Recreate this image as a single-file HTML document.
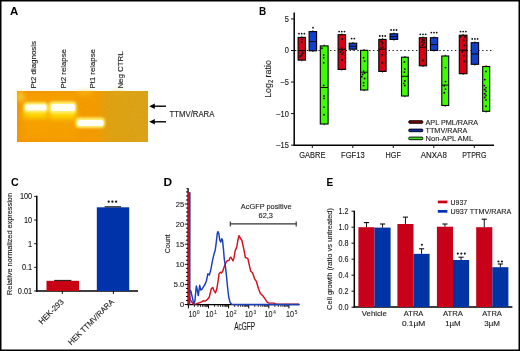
<!DOCTYPE html><html><head><meta charset="utf-8"><style>html,body{margin:0;padding:0;background:#fff;}svg{display:block;will-change:transform}text{stroke:#1a1a1a;stroke-width:0.12px}text[font-weight=bold]{stroke:none}</style></head><body><svg width="520" height="351" viewBox="0 0 520 351" font-family="'Liberation Sans', sans-serif"><rect x="0.75" y="0.75" width="518.5" height="349.5" fill="none" stroke="#000" stroke-width="1.5"/>
<text x="9.9" y="15.1" font-size="11" text-anchor="start" fill="#000" font-weight="bold" textLength="8.3" lengthAdjust="spacingAndGlyphs" >A</text>
<text x="259.1" y="15.3" font-size="11" text-anchor="start" fill="#000" font-weight="bold" textLength="7.2" lengthAdjust="spacingAndGlyphs" >B</text>
<text x="11.0" y="186.2" font-size="11" text-anchor="start" fill="#000" font-weight="bold" textLength="7.7" lengthAdjust="spacingAndGlyphs" >C</text>
<text x="163.6" y="186" font-size="11" text-anchor="start" fill="#000" font-weight="bold" textLength="8.6" lengthAdjust="spacingAndGlyphs" >D</text>
<text x="326.5" y="186" font-size="11" text-anchor="start" fill="#000" font-weight="bold" textLength="6.7" lengthAdjust="spacingAndGlyphs" >E</text>
<defs>
<linearGradient id="gel" x1="0" x2="1" y1="0" y2="0">
 <stop offset="0" stop-color="#f39600"/>
 <stop offset="0.6" stop-color="#f29a00"/>
 <stop offset="0.7" stop-color="#dea012"/>
 <stop offset="1" stop-color="#d8a21a"/>
</linearGradient>
<filter id="blur1" x="-50%" y="-50%" width="200%" height="200%"><feGaussianBlur stdDeviation="1.2"/></filter>
<filter id="blur2" x="-50%" y="-50%" width="200%" height="200%"><feGaussianBlur stdDeviation="2.5"/></filter>
<filter id="noise" x="0" y="0" width="100%" height="100%"><feTurbulence type="fractalNoise" baseFrequency="0.35" numOctaves="2" seed="4"/><feColorMatrix type="matrix" values="0 0 0 0 0.95  0 0 0 0 0.55  0 0 0 0 0  0 0 0 1.6 -0.75"/></filter>
<filter id="blur05" x="-50%" y="-50%" width="200%" height="200%"><feGaussianBlur stdDeviation="0.6"/></filter>
</defs>
<rect x="17" y="91" width="131" height="51" fill="url(#gel)"/>
<rect x="17" y="91" width="131" height="51" filter="url(#noise)" opacity="0.22"/>
<g filter="url(#blur2)"><rect x="22" y="94" width="27" height="44" fill="#f8a800" opacity="0.45"/><rect x="49" y="94" width="28" height="44" fill="#f8a800" opacity="0.4"/><rect x="24" y="110" width="23" height="8" fill="#ffe000" opacity="0.9"/><rect x="50" y="110.5" width="26" height="8" fill="#ffe000" opacity="0.95"/><rect x="18" y="92" width="5" height="9" fill="#ffe040" opacity="0.8"/><rect x="78" y="91" width="14" height="3" fill="#fcd030" opacity="0.7"/><rect x="112" y="91" width="12" height="3" fill="#e8b020" opacity="0.5"/></g>
<g filter="url(#blur1)"><rect x="23.5" y="102.3" width="24.5" height="10.5" rx="4" fill="#fff070"/><rect x="49" y="101.6" width="27.5" height="12" rx="4" fill="#fff070"/><rect x="75.5" y="117.6" width="29.5" height="10.5" rx="4" fill="#fff070"/></g>
<g filter="url(#blur05)"><rect x="25" y="104.6" width="21.5" height="5.8" rx="2.5" fill="#fffff6"/><rect x="51" y="104" width="24" height="7" rx="2.5" fill="#fffff6"/><rect x="77.5" y="120" width="26" height="6" rx="2.5" fill="#fffff6"/></g>
<text transform="translate(36.3,88.6) rotate(-90)" x="0" y="0" font-size="6.9" fill="#1a1a1a" textLength="47.6" lengthAdjust="spacingAndGlyphs">Pt2 diagnosis</text>
<text transform="translate(65.6,88.6) rotate(-90)" x="0" y="0" font-size="6.9" fill="#1a1a1a" textLength="39.5" lengthAdjust="spacingAndGlyphs">Pt2 relapse</text>
<text transform="translate(94.6,88.6) rotate(-90)" x="0" y="0" font-size="6.9" fill="#1a1a1a" textLength="39.5" lengthAdjust="spacingAndGlyphs">Pt1 relapse</text>
<text transform="translate(122.8,88.6) rotate(-90)" x="0" y="0" font-size="6.9" fill="#1a1a1a" textLength="37.3" lengthAdjust="spacingAndGlyphs">Neg CTRL</text>
<line x1="152" y1="106.2" x2="166" y2="106.2" stroke="#000" stroke-width="1.4"/>
<path d="M149.3,106.2 L154.8,103.4 L154.8,109.0 Z" fill="#000"/>
<line x1="152" y1="121.8" x2="166" y2="121.8" stroke="#000" stroke-width="1.4"/>
<path d="M149.3,121.8 L154.8,119.0 L154.8,124.6 Z" fill="#000"/>
<text x="169.6" y="116.6" font-size="8.2" text-anchor="start" fill="#1a1a1a" textLength="44.8" lengthAdjust="spacingAndGlyphs" >TTMV/RARA</text>
<line x1="294.2" y1="12.5" x2="294.2" y2="146" stroke="#000" stroke-width="1.5"/>
<line x1="293.5" y1="145.3" x2="494" y2="145.3" stroke="#000" stroke-width="1.4"/>
<line x1="291" y1="18.95" x2="294" y2="18.95" stroke="#111" stroke-width="1"/>
<text x="288.8" y="21.85" font-size="8.3" text-anchor="end" fill="#1a1a1a" textLength="4.15" lengthAdjust="spacingAndGlyphs" >5</text>
<line x1="291" y1="50.50" x2="294" y2="50.50" stroke="#111" stroke-width="1"/>
<text x="288.8" y="53.4" font-size="8.3" text-anchor="end" fill="#1a1a1a" textLength="4.15" lengthAdjust="spacingAndGlyphs" >0</text>
<line x1="291" y1="82.05" x2="294" y2="82.05" stroke="#111" stroke-width="1"/>
<text x="288.8" y="84.95" font-size="8.3" text-anchor="end" fill="#1a1a1a" textLength="8.31" lengthAdjust="spacingAndGlyphs" >–5</text>
<line x1="291" y1="113.60" x2="294" y2="113.60" stroke="#111" stroke-width="1"/>
<text x="288.8" y="116.5" font-size="8.3" text-anchor="end" fill="#1a1a1a" textLength="12.46" lengthAdjust="spacingAndGlyphs" >–10</text>
<line x1="291" y1="145.15" x2="294" y2="145.15" stroke="#111" stroke-width="1"/>
<text x="288.8" y="148.04999999999998" font-size="8.3" text-anchor="end" fill="#1a1a1a" textLength="12.46" lengthAdjust="spacingAndGlyphs" >–15</text>
<line x1="312.3" y1="145" x2="312.3" y2="148" stroke="#111" stroke-width="1"/>
<line x1="352.8" y1="145" x2="352.8" y2="148" stroke="#111" stroke-width="1"/>
<line x1="393.3" y1="145" x2="393.3" y2="148" stroke="#111" stroke-width="1"/>
<line x1="433.8" y1="145" x2="433.8" y2="148" stroke="#111" stroke-width="1"/>
<line x1="474.3" y1="145" x2="474.3" y2="148" stroke="#111" stroke-width="1"/>
<text x="312.3" y="157.8" font-size="8.2" text-anchor="middle" fill="#1a1a1a" textLength="26.3" lengthAdjust="spacingAndGlyphs" >GABRE</text>
<text x="352.8" y="157.8" font-size="8.2" text-anchor="middle" fill="#1a1a1a" textLength="23.6" lengthAdjust="spacingAndGlyphs" >FGF13</text>
<text x="393.3" y="157.8" font-size="8.2" text-anchor="middle" fill="#1a1a1a" textLength="15.4" lengthAdjust="spacingAndGlyphs" >HGF</text>
<text x="433.8" y="157.8" font-size="8.2" text-anchor="middle" fill="#1a1a1a" textLength="26" lengthAdjust="spacingAndGlyphs" >ANXA8</text>
<text x="474.3" y="157.8" font-size="8.2" text-anchor="middle" fill="#1a1a1a" textLength="24.2" lengthAdjust="spacingAndGlyphs" >PTPRG</text>
<text transform="translate(270.9,79) rotate(-90)" text-anchor="middle" font-size="9.7" fill="#1a1a1a" textLength="37.6" lengthAdjust="spacingAndGlyphs">Log<tspan font-size="6.3" dy="2.2">2</tspan><tspan dy="-2.2"> ratio</tspan></text>
<line x1="295" y1="50.5" x2="494" y2="50.5" stroke="#222" stroke-width="1.2" stroke-dasharray="1.4,2.5"/>
<rect x="298.1" y="37.4" width="7.40" height="22.70" fill="#d80012" stroke="#000" stroke-width="1.1"/>
<line x1="301.80" y1="36.199999999999996" x2="301.80" y2="61.300000000000004" stroke="#000" stroke-width="0.9" stroke-dasharray="1.2,22.70"/>
<line x1="298.1" y1="50.6" x2="305.5" y2="50.6" stroke="#000" stroke-width="0.9"/>
<rect x="309.1" y="31.6" width="7.50" height="19.20" fill="#1040cc" stroke="#000" stroke-width="1.1"/>
<line x1="312.85" y1="30.400000000000002" x2="312.85" y2="52.0" stroke="#000" stroke-width="0.9" stroke-dasharray="1.2,19.20"/>
<line x1="309.1" y1="41.6" x2="316.6" y2="41.6" stroke="#000" stroke-width="0.9"/>
<rect x="320.3" y="45.9" width="7.80" height="78.10" fill="#40fc00" stroke="#000" stroke-width="1.1"/>
<line x1="324.20" y1="44.699999999999996" x2="324.20" y2="125.2" stroke="#000" stroke-width="0.9" stroke-dasharray="1.2,78.10"/>
<line x1="320.3" y1="87.5" x2="328.1" y2="87.5" stroke="#000" stroke-width="0.9"/>
<rect x="338.1" y="34.7" width="7.50" height="34.70" fill="#d80012" stroke="#000" stroke-width="1.1"/>
<line x1="341.85" y1="33.5" x2="341.85" y2="70.60000000000001" stroke="#000" stroke-width="0.9" stroke-dasharray="1.2,34.70"/>
<line x1="338.1" y1="49.3" x2="345.6" y2="49.3" stroke="#000" stroke-width="0.9"/>
<rect x="349.2" y="43.2" width="7.50" height="6.00" fill="#1040cc" stroke="#000" stroke-width="1.1"/>
<line x1="352.95" y1="42.0" x2="352.95" y2="50.400000000000006" stroke="#000" stroke-width="0.9" stroke-dasharray="1.2,6.00"/>
<line x1="349.2" y1="46.3" x2="356.7" y2="46.3" stroke="#000" stroke-width="0.9"/>
<rect x="360.6" y="50.3" width="7.20" height="39.70" fill="#40fc00" stroke="#000" stroke-width="1.1"/>
<line x1="364.20" y1="49.099999999999994" x2="364.20" y2="91.2" stroke="#000" stroke-width="0.9" stroke-dasharray="1.2,39.70"/>
<line x1="360.6" y1="72.2" x2="367.8" y2="72.2" stroke="#000" stroke-width="0.9"/>
<rect x="378.8" y="39.4" width="7.30" height="32.00" fill="#d80012" stroke="#000" stroke-width="1.1"/>
<line x1="382.45" y1="38.199999999999996" x2="382.45" y2="72.60000000000001" stroke="#000" stroke-width="0.9" stroke-dasharray="1.2,32.00"/>
<line x1="378.8" y1="49.2" x2="386.1" y2="49.2" stroke="#000" stroke-width="0.9"/>
<rect x="390" y="33.8" width="7.70" height="5.60" fill="#1040cc" stroke="#000" stroke-width="1.1"/>
<line x1="393.85" y1="32.599999999999994" x2="393.85" y2="40.6" stroke="#000" stroke-width="0.9" stroke-dasharray="1.2,5.60"/>
<line x1="390" y1="36.6" x2="397.7" y2="36.6" stroke="#000" stroke-width="0.9"/>
<rect x="401.5" y="57.2" width="6.80" height="38.80" fill="#40fc00" stroke="#000" stroke-width="1.1"/>
<line x1="404.90" y1="56.0" x2="404.90" y2="97.2" stroke="#000" stroke-width="0.9" stroke-dasharray="1.2,38.80"/>
<line x1="401.5" y1="76.3" x2="408.3" y2="76.3" stroke="#000" stroke-width="0.9"/>
<rect x="419.3" y="37.7" width="7.30" height="28.10" fill="#d80012" stroke="#000" stroke-width="1.1"/>
<line x1="422.95" y1="36.5" x2="422.95" y2="67.0" stroke="#000" stroke-width="0.9" stroke-dasharray="1.2,28.10"/>
<line x1="419.3" y1="47.2" x2="426.6" y2="47.2" stroke="#000" stroke-width="0.9"/>
<rect x="430.4" y="37.7" width="7.30" height="12.70" fill="#1040cc" stroke="#000" stroke-width="1.1"/>
<line x1="434.05" y1="36.5" x2="434.05" y2="51.6" stroke="#000" stroke-width="0.9" stroke-dasharray="1.2,12.70"/>
<line x1="430.4" y1="44.6" x2="437.7" y2="44.6" stroke="#000" stroke-width="0.9"/>
<rect x="441.8" y="56" width="6.90" height="49.50" fill="#40fc00" stroke="#000" stroke-width="1.1"/>
<line x1="445.25" y1="54.8" x2="445.25" y2="106.7" stroke="#000" stroke-width="0.9" stroke-dasharray="1.2,49.50"/>
<line x1="441.8" y1="85.1" x2="448.7" y2="85.1" stroke="#000" stroke-width="0.9"/>
<rect x="459.3" y="35.2" width="7.70" height="38.50" fill="#d80012" stroke="#000" stroke-width="1.1"/>
<line x1="463.15" y1="34.0" x2="463.15" y2="74.9" stroke="#000" stroke-width="0.9" stroke-dasharray="1.2,38.50"/>
<line x1="459.3" y1="50.2" x2="467" y2="50.2" stroke="#000" stroke-width="0.9"/>
<rect x="471.2" y="42.7" width="7.40" height="21.60" fill="#1040cc" stroke="#000" stroke-width="1.1"/>
<line x1="474.90" y1="41.5" x2="474.90" y2="65.5" stroke="#000" stroke-width="0.9" stroke-dasharray="1.2,21.60"/>
<line x1="471.2" y1="54" x2="478.6" y2="54" stroke="#000" stroke-width="0.9"/>
<rect x="482.7" y="66.5" width="7.00" height="44.80" fill="#40fc00" stroke="#000" stroke-width="1.1"/>
<line x1="486.20" y1="65.3" x2="486.20" y2="112.5" stroke="#000" stroke-width="0.9" stroke-dasharray="1.2,44.80"/>
<circle cx="301.80" cy="39.20" r="0.95" fill="#111"/>
<circle cx="301.80" cy="42.10" r="0.95" fill="#111"/>
<circle cx="302.30" cy="50.80" r="0.95" fill="#111"/>
<circle cx="300.40" cy="56.20" r="0.95" fill="#111"/>
<circle cx="301.80" cy="54.70" r="0.95" fill="#111"/>
<circle cx="302.80" cy="53.30" r="0.95" fill="#111"/>
<circle cx="321.90" cy="48.30" r="0.95" fill="#111"/>
<circle cx="323.70" cy="54.90" r="0.95" fill="#111"/>
<circle cx="323.70" cy="57.80" r="0.95" fill="#111"/>
<circle cx="323.70" cy="62.80" r="0.95" fill="#111"/>
<circle cx="323.70" cy="85.50" r="0.95" fill="#111"/>
<circle cx="324.00" cy="95.90" r="0.95" fill="#111"/>
<circle cx="324.00" cy="98.40" r="0.95" fill="#111"/>
<circle cx="324.00" cy="107.10" r="0.95" fill="#111"/>
<circle cx="324.00" cy="114.80" r="0.95" fill="#111"/>
<circle cx="342.30" cy="38.90" r="0.95" fill="#111"/>
<circle cx="341.40" cy="48.50" r="0.95" fill="#111"/>
<circle cx="342.30" cy="50.00" r="0.95" fill="#111"/>
<circle cx="340.50" cy="51.90" r="0.95" fill="#111"/>
<circle cx="343.30" cy="52.60" r="0.95" fill="#111"/>
<circle cx="342.30" cy="54.10" r="0.95" fill="#111"/>
<circle cx="342.00" cy="60.00" r="0.95" fill="#111"/>
<circle cx="363.60" cy="57.80" r="0.95" fill="#111"/>
<circle cx="364.60" cy="61.10" r="0.95" fill="#111"/>
<circle cx="363.60" cy="71.10" r="0.95" fill="#111"/>
<circle cx="364.60" cy="73.00" r="0.95" fill="#111"/>
<circle cx="362.70" cy="74.40" r="0.95" fill="#111"/>
<circle cx="361.80" cy="76.70" r="0.95" fill="#111"/>
<circle cx="364.60" cy="78.50" r="0.95" fill="#111"/>
<circle cx="363.60" cy="82.80" r="0.95" fill="#111"/>
<circle cx="363.60" cy="85.60" r="0.95" fill="#111"/>
<circle cx="381.20" cy="41.30" r="0.95" fill="#111"/>
<circle cx="382.60" cy="42.80" r="0.95" fill="#111"/>
<circle cx="381.80" cy="44.80" r="0.95" fill="#111"/>
<circle cx="383.20" cy="46.90" r="0.95" fill="#111"/>
<circle cx="381.20" cy="48.10" r="0.95" fill="#111"/>
<circle cx="382.20" cy="54.70" r="0.95" fill="#111"/>
<circle cx="382.20" cy="62.90" r="0.95" fill="#111"/>
<circle cx="404.40" cy="61.90" r="0.95" fill="#111"/>
<circle cx="404.80" cy="69.10" r="0.95" fill="#111"/>
<circle cx="404.40" cy="72.10" r="0.95" fill="#111"/>
<circle cx="404.80" cy="81.00" r="0.95" fill="#111"/>
<circle cx="403.80" cy="83.40" r="0.95" fill="#111"/>
<circle cx="404.80" cy="85.50" r="0.95" fill="#111"/>
<circle cx="422.40" cy="39.80" r="0.95" fill="#111"/>
<circle cx="424.00" cy="40.30" r="0.95" fill="#111"/>
<circle cx="421.90" cy="41.90" r="0.95" fill="#111"/>
<circle cx="423.50" cy="44.00" r="0.95" fill="#111"/>
<circle cx="422.40" cy="45.10" r="0.95" fill="#111"/>
<circle cx="424.00" cy="42.60" r="0.95" fill="#111"/>
<circle cx="422.90" cy="60.50" r="0.95" fill="#111"/>
<circle cx="445.50" cy="67.60" r="0.95" fill="#111"/>
<circle cx="445.50" cy="81.60" r="0.95" fill="#111"/>
<circle cx="444.30" cy="85.80" r="0.95" fill="#111"/>
<circle cx="445.50" cy="89.10" r="0.95" fill="#111"/>
<circle cx="444.30" cy="92.80" r="0.95" fill="#111"/>
<circle cx="460.50" cy="36.70" r="0.95" fill="#111"/>
<circle cx="464.90" cy="36.70" r="0.95" fill="#111"/>
<circle cx="463.70" cy="40.40" r="0.95" fill="#111"/>
<circle cx="464.40" cy="45.40" r="0.95" fill="#111"/>
<circle cx="463.70" cy="49.80" r="0.95" fill="#111"/>
<circle cx="462.40" cy="51.80" r="0.95" fill="#111"/>
<circle cx="463.70" cy="55.80" r="0.95" fill="#111"/>
<circle cx="464.40" cy="61.50" r="0.95" fill="#111"/>
<circle cx="486.00" cy="71.40" r="0.95" fill="#111"/>
<circle cx="484.80" cy="79.60" r="0.95" fill="#111"/>
<circle cx="484.30" cy="85.60" r="0.95" fill="#111"/>
<circle cx="486.00" cy="87.60" r="0.95" fill="#111"/>
<circle cx="484.80" cy="89.50" r="0.95" fill="#111"/>
<circle cx="486.00" cy="91.30" r="0.95" fill="#111"/>
<circle cx="484.80" cy="93.80" r="0.95" fill="#111"/>
<circle cx="486.00" cy="95.50" r="0.95" fill="#111"/>
<circle cx="484.80" cy="97.50" r="0.95" fill="#111"/>
<circle cx="486.00" cy="100.00" r="0.95" fill="#111"/>
<circle cx="486.00" cy="106.20" r="0.95" fill="#111"/>
<circle cx="299.00" cy="33.7" r="0.9" fill="#111"/>
<circle cx="301.70" cy="33.7" r="0.9" fill="#111"/>
<circle cx="304.40" cy="33.7" r="0.9" fill="#111"/>
<circle cx="313.00" cy="27.7" r="0.9" fill="#111"/>
<circle cx="339.10" cy="31.6" r="0.9" fill="#111"/>
<circle cx="341.80" cy="31.6" r="0.9" fill="#111"/>
<circle cx="344.50" cy="31.6" r="0.9" fill="#111"/>
<circle cx="351.65" cy="38.6" r="0.9" fill="#111"/>
<circle cx="354.35" cy="38.6" r="0.9" fill="#111"/>
<circle cx="379.80" cy="36" r="0.9" fill="#111"/>
<circle cx="382.50" cy="36" r="0.9" fill="#111"/>
<circle cx="385.20" cy="36" r="0.9" fill="#111"/>
<circle cx="391.10" cy="30" r="0.9" fill="#111"/>
<circle cx="393.80" cy="30" r="0.9" fill="#111"/>
<circle cx="396.50" cy="30" r="0.9" fill="#111"/>
<circle cx="420.30" cy="34.3" r="0.9" fill="#111"/>
<circle cx="423.00" cy="34.3" r="0.9" fill="#111"/>
<circle cx="425.70" cy="34.3" r="0.9" fill="#111"/>
<circle cx="431.30" cy="32.6" r="0.9" fill="#111"/>
<circle cx="434.00" cy="32.6" r="0.9" fill="#111"/>
<circle cx="436.70" cy="32.6" r="0.9" fill="#111"/>
<circle cx="460.50" cy="31.6" r="0.9" fill="#111"/>
<circle cx="463.20" cy="31.6" r="0.9" fill="#111"/>
<circle cx="465.90" cy="31.6" r="0.9" fill="#111"/>
<circle cx="472.20" cy="38.9" r="0.9" fill="#111"/>
<circle cx="474.90" cy="38.9" r="0.9" fill="#111"/>
<circle cx="477.60" cy="38.9" r="0.9" fill="#111"/>
<rect x="408.8" y="120.7" width="14" height="2.6" rx="0.8" fill="#7a0000" stroke="#000" stroke-width="0.9"/>
<text x="425.5" y="124.7" font-size="8.1" text-anchor="start" fill="#1a1a1a" textLength="52.5" lengthAdjust="spacingAndGlyphs" >APL PML/RARA</text>
<rect x="408.8" y="129.1" width="14" height="2.6" rx="0.8" fill="#0a2ab0" stroke="#000" stroke-width="0.9"/>
<text x="425.5" y="133.1" font-size="8.1" text-anchor="start" fill="#1a1a1a" textLength="41.9" lengthAdjust="spacingAndGlyphs" >TTMV/RARA</text>
<rect x="408.8" y="137.1" width="14" height="2.6" rx="0.8" fill="#38e818" stroke="#000" stroke-width="0.9"/>
<text x="425.5" y="141.1" font-size="8.1" text-anchor="start" fill="#1a1a1a" textLength="47.6" lengthAdjust="spacingAndGlyphs" >Non-APL AML</text>
<line x1="36.8" y1="195.8" x2="36.8" y2="291.7" stroke="#000" stroke-width="1.5"/>
<line x1="36.1" y1="291" x2="138" y2="291" stroke="#000" stroke-width="1.5"/>
<line x1="34.2" y1="196.40" x2="36.8" y2="196.40" stroke="#111" stroke-width="1"/>
<text x="32.2" y="199.3" font-size="8.2" text-anchor="end" fill="#1a1a1a" textLength="12.31" lengthAdjust="spacingAndGlyphs" >100</text>
<line x1="34.2" y1="220.05" x2="36.8" y2="220.05" stroke="#111" stroke-width="1"/>
<text x="32.2" y="222.95000000000002" font-size="8.2" text-anchor="end" fill="#1a1a1a" textLength="8.21" lengthAdjust="spacingAndGlyphs" >10</text>
<line x1="34.2" y1="243.70" x2="36.8" y2="243.70" stroke="#111" stroke-width="1"/>
<text x="32.2" y="246.6" font-size="8.2" text-anchor="end" fill="#1a1a1a" textLength="4.1" lengthAdjust="spacingAndGlyphs" >1</text>
<line x1="34.2" y1="267.35" x2="36.8" y2="267.35" stroke="#111" stroke-width="1"/>
<text x="32.2" y="270.25" font-size="8.2" text-anchor="end" fill="#1a1a1a" textLength="10.26" lengthAdjust="spacingAndGlyphs" >0.1</text>
<line x1="34.2" y1="291.00" x2="36.8" y2="291.00" stroke="#111" stroke-width="1"/>
<text x="32.2" y="293.9" font-size="8.2" text-anchor="end" fill="#1a1a1a" textLength="14.36" lengthAdjust="spacingAndGlyphs" >0.01</text>
<line x1="62.3" y1="291" x2="62.3" y2="294" stroke="#111" stroke-width="1"/>
<line x1="113.4" y1="291" x2="113.4" y2="294" stroke="#111" stroke-width="1"/>
<rect x="46.5" y="280.8" width="32.5" height="10.2" fill="#c80014"/>
<rect x="96.8" y="207.3" width="32.4" height="83.7" fill="#0033aa"/>
<line x1="54.2" y1="280.4" x2="71.4" y2="280.4" stroke="#111" stroke-width="1"/>
<line x1="104.6" y1="206.8" x2="121.1" y2="206.8" stroke="#111" stroke-width="1.1"/>
<circle cx="108.70" cy="201.7" r="1.15" fill="#111"/>
<circle cx="112.40" cy="201.7" r="1.15" fill="#111"/>
<circle cx="116.10" cy="201.7" r="1.15" fill="#111"/>
<text transform="translate(12.1,244) rotate(-90)" text-anchor="middle" font-size="7.8" fill="#1a1a1a" textLength="102" lengthAdjust="spacingAndGlyphs">Relative normalized expression</text>
<text transform="translate(60.3,298.5) rotate(-45)" text-anchor="end" font-size="8" fill="#1a1a1a" textLength="31.5" lengthAdjust="spacingAndGlyphs" y="5.5">HEK-293</text>
<text transform="translate(110.6,298.5) rotate(-45)" text-anchor="end" font-size="8" fill="#1a1a1a" textLength="61" lengthAdjust="spacingAndGlyphs" y="5.5">HEK TTMV/RARA</text>
<line x1="188.1" y1="188.2" x2="188.1" y2="305.2" stroke="#000" stroke-width="1.3"/>
<line x1="187.5" y1="304.6" x2="299.5" y2="304.6" stroke="#000" stroke-width="1.3"/>
<line x1="184.8" y1="304.50" x2="188.2" y2="304.50" stroke="#000" stroke-width="1"/>
<line x1="186.0" y1="300.48" x2="188.2" y2="300.48" stroke="#000" stroke-width="1"/>
<line x1="186.0" y1="296.46" x2="188.2" y2="296.46" stroke="#000" stroke-width="1"/>
<line x1="186.0" y1="292.44" x2="188.2" y2="292.44" stroke="#000" stroke-width="1"/>
<line x1="186.0" y1="288.42" x2="188.2" y2="288.42" stroke="#000" stroke-width="1"/>
<line x1="184.8" y1="284.40" x2="188.2" y2="284.40" stroke="#000" stroke-width="1"/>
<line x1="186.0" y1="280.38" x2="188.2" y2="280.38" stroke="#000" stroke-width="1"/>
<line x1="186.0" y1="276.36" x2="188.2" y2="276.36" stroke="#000" stroke-width="1"/>
<line x1="186.0" y1="272.34" x2="188.2" y2="272.34" stroke="#000" stroke-width="1"/>
<line x1="186.0" y1="268.32" x2="188.2" y2="268.32" stroke="#000" stroke-width="1"/>
<line x1="184.8" y1="264.30" x2="188.2" y2="264.30" stroke="#000" stroke-width="1"/>
<line x1="186.0" y1="260.28" x2="188.2" y2="260.28" stroke="#000" stroke-width="1"/>
<line x1="186.0" y1="256.26" x2="188.2" y2="256.26" stroke="#000" stroke-width="1"/>
<line x1="186.0" y1="252.24" x2="188.2" y2="252.24" stroke="#000" stroke-width="1"/>
<line x1="186.0" y1="248.22" x2="188.2" y2="248.22" stroke="#000" stroke-width="1"/>
<line x1="184.8" y1="244.20" x2="188.2" y2="244.20" stroke="#000" stroke-width="1"/>
<line x1="186.0" y1="240.18" x2="188.2" y2="240.18" stroke="#000" stroke-width="1"/>
<line x1="186.0" y1="236.16" x2="188.2" y2="236.16" stroke="#000" stroke-width="1"/>
<line x1="186.0" y1="232.14" x2="188.2" y2="232.14" stroke="#000" stroke-width="1"/>
<line x1="186.0" y1="228.12" x2="188.2" y2="228.12" stroke="#000" stroke-width="1"/>
<line x1="184.8" y1="224.10" x2="188.2" y2="224.10" stroke="#000" stroke-width="1"/>
<line x1="186.0" y1="220.08" x2="188.2" y2="220.08" stroke="#000" stroke-width="1"/>
<line x1="186.0" y1="216.06" x2="188.2" y2="216.06" stroke="#000" stroke-width="1"/>
<line x1="186.0" y1="212.04" x2="188.2" y2="212.04" stroke="#000" stroke-width="1"/>
<line x1="186.0" y1="208.02" x2="188.2" y2="208.02" stroke="#000" stroke-width="1"/>
<line x1="184.8" y1="204.00" x2="188.2" y2="204.00" stroke="#000" stroke-width="1"/>
<line x1="186.0" y1="199.98" x2="188.2" y2="199.98" stroke="#000" stroke-width="1"/>
<line x1="186.0" y1="195.96" x2="188.2" y2="195.96" stroke="#000" stroke-width="1"/>
<line x1="186.0" y1="191.94" x2="188.2" y2="191.94" stroke="#000" stroke-width="1"/>
<line x1="186.3" y1="188.7" x2="188.2" y2="188.7" stroke="#111" stroke-width="0.9"/>
<text x="184.2" y="206.9" font-size="8.1" text-anchor="end" fill="#1a1a1a" textLength="8.38" lengthAdjust="spacingAndGlyphs" >25</text>
<text x="184.2" y="227.00000000000003" font-size="8.1" text-anchor="end" fill="#1a1a1a" textLength="8.38" lengthAdjust="spacingAndGlyphs" >20</text>
<text x="184.2" y="247.1" font-size="8.1" text-anchor="end" fill="#1a1a1a" textLength="8.38" lengthAdjust="spacingAndGlyphs" >15</text>
<text x="184.2" y="267.2" font-size="8.1" text-anchor="end" fill="#1a1a1a" textLength="8.38" lengthAdjust="spacingAndGlyphs" >10</text>
<text x="184.2" y="287.29999999999995" font-size="8.1" text-anchor="end" fill="#1a1a1a" textLength="10.47" lengthAdjust="spacingAndGlyphs" >5.0</text>
<text x="184.2" y="307.4" font-size="8.1" text-anchor="end" fill="#1a1a1a" textLength="4.19" lengthAdjust="spacingAndGlyphs" >0</text>
<line x1="188.40" y1="304.6" x2="188.40" y2="308.4" stroke="#000" stroke-width="1"/>
<line x1="194.45" y1="304.6" x2="194.45" y2="306.9" stroke="#000" stroke-width="0.8"/>
<line x1="197.99" y1="304.6" x2="197.99" y2="306.9" stroke="#000" stroke-width="0.8"/>
<line x1="200.50" y1="304.6" x2="200.50" y2="306.9" stroke="#000" stroke-width="0.8"/>
<line x1="202.45" y1="304.6" x2="202.45" y2="306.9" stroke="#000" stroke-width="0.8"/>
<line x1="204.04" y1="304.6" x2="204.04" y2="306.9" stroke="#000" stroke-width="0.8"/>
<line x1="205.39" y1="304.6" x2="205.39" y2="306.9" stroke="#000" stroke-width="0.8"/>
<line x1="206.55" y1="304.6" x2="206.55" y2="306.9" stroke="#000" stroke-width="0.8"/>
<line x1="207.58" y1="304.6" x2="207.58" y2="306.9" stroke="#000" stroke-width="0.8"/>
<line x1="208.50" y1="304.6" x2="208.50" y2="308.4" stroke="#000" stroke-width="1"/>
<line x1="214.55" y1="304.6" x2="214.55" y2="306.9" stroke="#000" stroke-width="0.8"/>
<line x1="218.09" y1="304.6" x2="218.09" y2="306.9" stroke="#000" stroke-width="0.8"/>
<line x1="220.60" y1="304.6" x2="220.60" y2="306.9" stroke="#000" stroke-width="0.8"/>
<line x1="222.55" y1="304.6" x2="222.55" y2="306.9" stroke="#000" stroke-width="0.8"/>
<line x1="224.14" y1="304.6" x2="224.14" y2="306.9" stroke="#000" stroke-width="0.8"/>
<line x1="225.49" y1="304.6" x2="225.49" y2="306.9" stroke="#000" stroke-width="0.8"/>
<line x1="226.65" y1="304.6" x2="226.65" y2="306.9" stroke="#000" stroke-width="0.8"/>
<line x1="227.68" y1="304.6" x2="227.68" y2="306.9" stroke="#000" stroke-width="0.8"/>
<line x1="228.60" y1="304.6" x2="228.60" y2="308.4" stroke="#000" stroke-width="1"/>
<line x1="234.65" y1="304.6" x2="234.65" y2="306.9" stroke="#000" stroke-width="0.8"/>
<line x1="238.19" y1="304.6" x2="238.19" y2="306.9" stroke="#000" stroke-width="0.8"/>
<line x1="240.70" y1="304.6" x2="240.70" y2="306.9" stroke="#000" stroke-width="0.8"/>
<line x1="242.65" y1="304.6" x2="242.65" y2="306.9" stroke="#000" stroke-width="0.8"/>
<line x1="244.24" y1="304.6" x2="244.24" y2="306.9" stroke="#000" stroke-width="0.8"/>
<line x1="245.59" y1="304.6" x2="245.59" y2="306.9" stroke="#000" stroke-width="0.8"/>
<line x1="246.75" y1="304.6" x2="246.75" y2="306.9" stroke="#000" stroke-width="0.8"/>
<line x1="247.78" y1="304.6" x2="247.78" y2="306.9" stroke="#000" stroke-width="0.8"/>
<line x1="248.70" y1="304.6" x2="248.70" y2="308.4" stroke="#000" stroke-width="1"/>
<line x1="254.75" y1="304.6" x2="254.75" y2="306.9" stroke="#000" stroke-width="0.8"/>
<line x1="258.29" y1="304.6" x2="258.29" y2="306.9" stroke="#000" stroke-width="0.8"/>
<line x1="260.80" y1="304.6" x2="260.80" y2="306.9" stroke="#000" stroke-width="0.8"/>
<line x1="262.75" y1="304.6" x2="262.75" y2="306.9" stroke="#000" stroke-width="0.8"/>
<line x1="264.34" y1="304.6" x2="264.34" y2="306.9" stroke="#000" stroke-width="0.8"/>
<line x1="265.69" y1="304.6" x2="265.69" y2="306.9" stroke="#000" stroke-width="0.8"/>
<line x1="266.85" y1="304.6" x2="266.85" y2="306.9" stroke="#000" stroke-width="0.8"/>
<line x1="267.88" y1="304.6" x2="267.88" y2="306.9" stroke="#000" stroke-width="0.8"/>
<line x1="268.80" y1="304.6" x2="268.80" y2="308.4" stroke="#000" stroke-width="1"/>
<line x1="274.85" y1="304.6" x2="274.85" y2="306.9" stroke="#000" stroke-width="0.8"/>
<line x1="278.39" y1="304.6" x2="278.39" y2="306.9" stroke="#000" stroke-width="0.8"/>
<line x1="280.90" y1="304.6" x2="280.90" y2="306.9" stroke="#000" stroke-width="0.8"/>
<line x1="282.85" y1="304.6" x2="282.85" y2="306.9" stroke="#000" stroke-width="0.8"/>
<line x1="284.44" y1="304.6" x2="284.44" y2="306.9" stroke="#000" stroke-width="0.8"/>
<line x1="285.79" y1="304.6" x2="285.79" y2="306.9" stroke="#000" stroke-width="0.8"/>
<line x1="286.95" y1="304.6" x2="286.95" y2="306.9" stroke="#000" stroke-width="0.8"/>
<line x1="287.98" y1="304.6" x2="287.98" y2="306.9" stroke="#000" stroke-width="0.8"/>
<line x1="288.90" y1="304.6" x2="288.90" y2="308.4" stroke="#000" stroke-width="1"/>
<text x="188.4" y="317.1" font-size="8.3" fill="#2a2a2a" textLength="8" lengthAdjust="spacingAndGlyphs">10</text>
<text x="197.0" y="314" font-size="4.6" fill="#444">0</text>
<text x="205.6" y="317.1" font-size="8.3" fill="#2a2a2a" textLength="8" lengthAdjust="spacingAndGlyphs">10</text>
<text x="214.2" y="314" font-size="4.6" fill="#444">1</text>
<text x="225.4" y="317.1" font-size="8.3" fill="#2a2a2a" textLength="8" lengthAdjust="spacingAndGlyphs">10</text>
<text x="234.0" y="314" font-size="4.6" fill="#444">2</text>
<text x="244.8" y="317.1" font-size="8.3" fill="#2a2a2a" textLength="8" lengthAdjust="spacingAndGlyphs">10</text>
<text x="253.4" y="314" font-size="4.6" fill="#444">3</text>
<text x="264.6" y="317.1" font-size="8.3" fill="#2a2a2a" textLength="8" lengthAdjust="spacingAndGlyphs">10</text>
<text x="273.2" y="314" font-size="4.6" fill="#444">4</text>
<text x="286.1" y="317.1" font-size="8.3" fill="#2a2a2a" textLength="8" lengthAdjust="spacingAndGlyphs">10</text>
<text x="294.7" y="314" font-size="4.6" fill="#444">5</text>
<text x="234.3" y="329.6" font-size="10" text-anchor="start" fill="#1a1a1a" textLength="20.8" lengthAdjust="spacingAndGlyphs" >AcGFP</text>
<text transform="translate(170,243.9) rotate(-90)" text-anchor="middle" font-size="7.2" fill="#1a1a1a" textLength="18.8" lengthAdjust="spacingAndGlyphs">Count</text>
<line x1="230" y1="223.9" x2="296.5" y2="223.9" stroke="#333" stroke-width="1.2"/>
<line x1="230.3" y1="221.4" x2="230.3" y2="226.4" stroke="#333" stroke-width="1.1"/>
<line x1="296.2" y1="221.4" x2="296.2" y2="226.4" stroke="#333" stroke-width="1.1"/>
<text x="240.8" y="209.1" font-size="8.1" text-anchor="start" fill="#1a1a1a" textLength="50.7" lengthAdjust="spacingAndGlyphs" >AcGFP positive</text>
<text x="258.5" y="218.2" font-size="7.4" text-anchor="start" fill="#1a1a1a" textLength="14.5" lengthAdjust="spacingAndGlyphs" >62,3</text>
<polyline points="188.8,304.5 188.8,192.7 189.1,192.7 189.4,294.9 190.1,299.0 191.5,301.8 193.5,304.1 195.6,304.1 197.6,303.3 199.7,302.7 201.8,301.8 203.1,300.8 205.2,301.1 207.2,299.7 209.3,297.0 211.3,288.8 212.7,287.4 214.1,290.8 215.5,292.9 216.8,288.8 218.2,280.5 219.1,273.7 220.5,272.3 221.4,273.0 222.8,271.0 224.2,266.8 225.9,262.7 227.3,260.7 229.0,260.4 229.9,257.9 231.0,257.2 232.0,259.2 233.1,260.9 234.0,257.9 235.1,251.0 236.8,246.9 237.9,240.1 239.0,235.7 240.3,238.0 241.9,240.5 243.9,249.7 245.4,257.5 247.8,258.4 249.3,265.2 250.7,271.1 252.6,273.0 254.6,278.8 256.5,281.7 258.4,288.5 260.4,293.4 263.3,296.3 265.2,299.2 267.2,302.1 269.1,303.1 274.0,303.1 275.9,304.1 299.0,304.3" fill="none" stroke="#d4101e" stroke-width="1.45" stroke-linejoin="round"/>
<polyline points="189.7,304.5 189.7,192.7 189.9,192.7 189.8,290.1 190.8,290.8 192.2,297.0 193.9,304.1 194.9,301.1 196.3,286.0 197.2,289.5 198.3,295.6 199.7,285.3 200.8,290.1 201.8,289.5 203.1,287.4 205.2,284.0 206.5,280.5 207.9,273.7 209.3,275.1 210.7,270.3 212.5,260.6 213.9,254.5 215.3,249.7 216.2,242.8 217.3,233.2 218.0,231.6 218.7,233.2 219.8,240.1 220.8,242.1 221.7,238.7 222.5,240.1 223.5,249.7 224.3,259.2 225.5,266.8 226.5,276.4 227.6,287.4 228.7,297.0 230.1,302.5 231.7,304.2 233.0,304.4 299.4,304.4" fill="none" stroke="#1a3fc0" stroke-width="1.45" stroke-linejoin="round"/>
<line x1="354.3" y1="210.7" x2="354.3" y2="307.7" stroke="#000" stroke-width="1.5"/>
<line x1="353.6" y1="307" x2="512.4" y2="307" stroke="#000" stroke-width="1.5"/>
<line x1="351.5" y1="307.20" x2="354.3" y2="307.20" stroke="#111" stroke-width="1"/>
<text x="348.6" y="310.09999999999997" font-size="8.2" text-anchor="end" fill="#1a1a1a" textLength="10.03" lengthAdjust="spacingAndGlyphs" >0.0</text>
<line x1="351.5" y1="291.20" x2="354.3" y2="291.20" stroke="#111" stroke-width="1"/>
<text x="348.6" y="294.09999999999997" font-size="8.2" text-anchor="end" fill="#1a1a1a" textLength="10.03" lengthAdjust="spacingAndGlyphs" >0.2</text>
<line x1="351.5" y1="275.20" x2="354.3" y2="275.20" stroke="#111" stroke-width="1"/>
<text x="348.6" y="278.09999999999997" font-size="8.2" text-anchor="end" fill="#1a1a1a" textLength="10.03" lengthAdjust="spacingAndGlyphs" >0.4</text>
<line x1="351.5" y1="259.20" x2="354.3" y2="259.20" stroke="#111" stroke-width="1"/>
<text x="348.6" y="262.09999999999997" font-size="8.2" text-anchor="end" fill="#1a1a1a" textLength="10.03" lengthAdjust="spacingAndGlyphs" >0.6</text>
<line x1="351.5" y1="243.20" x2="354.3" y2="243.20" stroke="#111" stroke-width="1"/>
<text x="348.6" y="246.1" font-size="8.2" text-anchor="end" fill="#1a1a1a" textLength="10.03" lengthAdjust="spacingAndGlyphs" >0.8</text>
<line x1="351.5" y1="227.20" x2="354.3" y2="227.20" stroke="#111" stroke-width="1"/>
<text x="348.6" y="230.1" font-size="8.2" text-anchor="end" fill="#1a1a1a" textLength="10.03" lengthAdjust="spacingAndGlyphs" >1.0</text>
<line x1="351.5" y1="211.20" x2="354.3" y2="211.20" stroke="#111" stroke-width="1"/>
<text x="348.6" y="214.1" font-size="8.2" text-anchor="end" fill="#1a1a1a" textLength="10.03" lengthAdjust="spacingAndGlyphs" >1.2</text>
<rect x="358.4" y="227.20" width="16.1" height="79.80" fill="#c8001a"/>
<rect x="374.5" y="227.60" width="16.1" height="79.40" fill="#0033a3"/>
<line x1="366.45" y1="227.20" x2="366.45" y2="222.56" stroke="#111" stroke-width="1"/>
<line x1="363.85" y1="222.56" x2="369.05" y2="222.56" stroke="#111" stroke-width="1.1"/>
<line x1="382.55" y1="227.60" x2="382.55" y2="224.00" stroke="#111" stroke-width="1"/>
<line x1="379.95" y1="224.00" x2="385.15" y2="224.00" stroke="#111" stroke-width="1.1"/>
<rect x="397.4" y="224.00" width="16.1" height="83.00" fill="#c8001a"/>
<rect x="413.5" y="253.84" width="16.1" height="53.16" fill="#0033a3"/>
<line x1="405.45" y1="224.00" x2="405.45" y2="217.12" stroke="#111" stroke-width="1"/>
<line x1="402.85" y1="217.12" x2="408.05" y2="217.12" stroke="#111" stroke-width="1.1"/>
<line x1="421.55" y1="253.84" x2="421.55" y2="248.80" stroke="#111" stroke-width="1"/>
<line x1="418.95" y1="248.80" x2="424.15" y2="248.80" stroke="#111" stroke-width="1.1"/>
<rect x="436.9" y="226.72" width="16.1" height="80.28" fill="#c8001a"/>
<rect x="453.0" y="260.00" width="16.1" height="47.00" fill="#0033a3"/>
<line x1="444.95" y1="226.72" x2="444.95" y2="224.00" stroke="#111" stroke-width="1"/>
<line x1="442.35" y1="224.00" x2="447.55" y2="224.00" stroke="#111" stroke-width="1.1"/>
<line x1="461.05" y1="260.00" x2="461.05" y2="257.20" stroke="#111" stroke-width="1"/>
<line x1="458.45" y1="257.20" x2="463.65" y2="257.20" stroke="#111" stroke-width="1.1"/>
<rect x="476.2" y="227.20" width="16.1" height="79.80" fill="#c8001a"/>
<rect x="492.3" y="267.20" width="16.1" height="39.80" fill="#0033a3"/>
<line x1="484.25" y1="227.20" x2="484.25" y2="219.20" stroke="#111" stroke-width="1"/>
<line x1="481.65" y1="219.20" x2="486.85" y2="219.20" stroke="#111" stroke-width="1.1"/>
<line x1="500.35" y1="267.20" x2="500.35" y2="264.00" stroke="#111" stroke-width="1"/>
<line x1="497.75" y1="264.00" x2="502.95" y2="264.00" stroke="#111" stroke-width="1.1"/>
<circle cx="421.90" cy="244.8" r="1.05" fill="#111"/>
<circle cx="457.80" cy="253.6" r="1.05" fill="#111"/>
<circle cx="461.30" cy="253.6" r="1.05" fill="#111"/>
<circle cx="464.80" cy="253.6" r="1.05" fill="#111"/>
<circle cx="498.45" cy="261.5" r="1.05" fill="#111"/>
<circle cx="501.95" cy="261.5" r="1.05" fill="#111"/>
<text transform="translate(331.6,259) rotate(-90)" text-anchor="middle" font-size="7.8" fill="#1a1a1a" textLength="102" lengthAdjust="spacingAndGlyphs">Cell growth (ratio vs untreated)</text>
<rect x="437.8" y="200.6" width="9.6" height="2.7" fill="#cc0010"/>
<rect x="437.8" y="210" width="9.6" height="2.7" fill="#0030b8"/>
<text x="450.6" y="204.5" font-size="7.4" text-anchor="start" fill="#1a1a1a" textLength="16.5" lengthAdjust="spacingAndGlyphs" >U937</text>
<text x="450.6" y="214.1" font-size="7.4" text-anchor="start" fill="#1a1a1a" textLength="60.7" lengthAdjust="spacingAndGlyphs" >U937 TTMV/RARA</text>
<text x="374.4" y="316.2" font-size="7.8" text-anchor="middle" fill="#1a1a1a" textLength="25.1" lengthAdjust="spacingAndGlyphs" >Vehicle</text>
<text x="413.6" y="316.2" font-size="7.8" text-anchor="middle" fill="#1a1a1a" textLength="19.5" lengthAdjust="spacingAndGlyphs" >ATRA</text>
<text x="413.6" y="326.1" font-size="7.8" text-anchor="middle" fill="#1a1a1a" textLength="23.4" lengthAdjust="spacingAndGlyphs" >0.1µM</text>
<text x="452.9" y="316.2" font-size="7.8" text-anchor="middle" fill="#1a1a1a" textLength="19.9" lengthAdjust="spacingAndGlyphs" >ATRA</text>
<text x="452.9" y="326.1" font-size="7.8" text-anchor="middle" fill="#1a1a1a" textLength="15.5" lengthAdjust="spacingAndGlyphs" >1µM</text>
<text x="492.1" y="316.2" font-size="7.8" text-anchor="middle" fill="#1a1a1a" textLength="19.6" lengthAdjust="spacingAndGlyphs" >ATRA</text>
<text x="492.1" y="326.1" font-size="7.8" text-anchor="middle" fill="#1a1a1a" textLength="15.8" lengthAdjust="spacingAndGlyphs" >3µM</text></svg></body></html>
